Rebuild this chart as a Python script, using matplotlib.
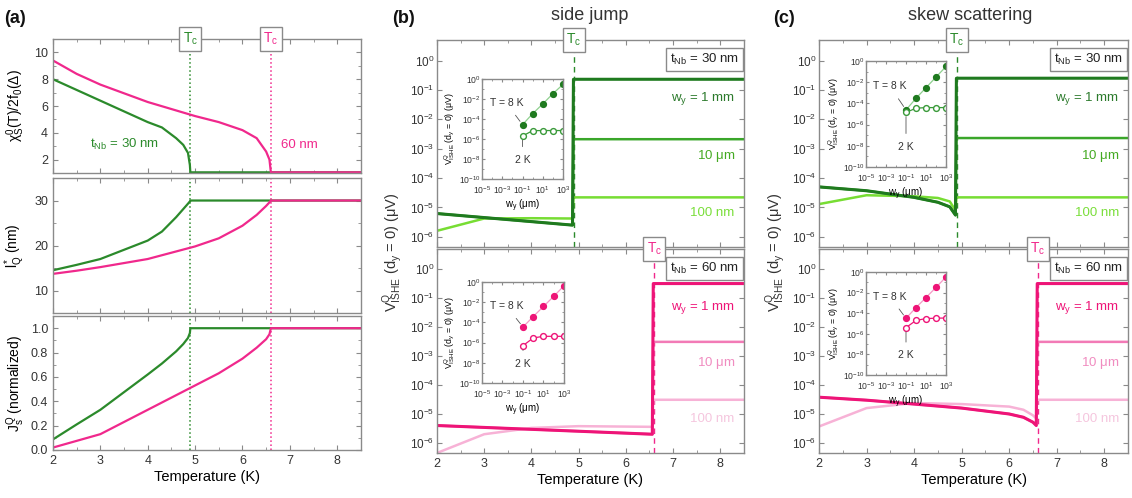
import matplotlib
matplotlib.use("Agg")
import matplotlib.pyplot as plt
import matplotlib.ticker as mticker

plt.rcParams["font.family"] = ["Liberation Sans", "DejaVu Sans"]
plt.rcParams["mathtext.fontset"] = "custom"
plt.rcParams["mathtext.rm"] = "Liberation Sans"
plt.rcParams["mathtext.it"] = "Liberation Sans"
plt.rcParams["mathtext.bf"] = "Liberation Sans:bold"
plt.rcParams["axes.edgecolor"] = "#8a8a8a"
plt.rcParams["axes.linewidth"] = 1.0
plt.rcParams["xtick.color"] = "#8a8a8a"
plt.rcParams["ytick.color"] = "#8a8a8a"
plt.rcParams["xtick.labelcolor"] = "#333333"
plt.rcParams["ytick.labelcolor"] = "#333333"
plt.rcParams["xtick.direction"] = "in"
plt.rcParams["ytick.direction"] = "in"
plt.rcParams["xtick.top"] = True
plt.rcParams["ytick.right"] = True
plt.rcParams["text.color"] = "#333333"

# ---- panel (a): superconducting quantities vs temperature ----
T_30 = [2.0, 2.5, 3.0, 4.0, 4.3, 4.6, 4.75, 4.85, 4.89, 4.9, 8.5]
chi_30 = [8.0, 7.2, 6.4, 4.8, 4.4, 3.6, 3.1, 2.5, 1.6, 1.05, 1.05]
lq_30 = [14.5, 15.7, 17.0, 21.1, 23.1, 26.3, 28.1, 29.3, 29.8, 30.0, 30.0]
js_30 = [0.087, 0.21, 0.33, 0.62, 0.71, 0.81, 0.87, 0.92, 0.96, 1.0, 1.0]

T_60 = [2.0, 2.5, 3.0, 4.0, 5.0, 5.5, 6.0, 6.3, 6.5, 6.57, 6.6, 8.5]
chi_60 = [9.4, 8.4, 7.6, 6.3, 5.25, 4.8, 4.2, 3.6, 2.6, 2.0, 1.05, 1.05]
lq_60 = [13.7, 14.4, 15.2, 17.0, 19.8, 21.6, 24.4, 26.8, 28.8, 29.6, 30.0, 30.0]
js_60 = [0.02, 0.075, 0.13, 0.33, 0.53, 0.63, 0.75, 0.84, 0.91, 0.95, 1.0, 1.0]

Tc_30 = 4.9
Tc_60 = 6.6

# ---- panel (b): side jump, V_ISHE vs T ----
sj30_T_1mm = [2.0, 4.87, 4.89, 8.5]
sj30_V_1mm = [6.2e-6, 2.5e-6, 0.23, 0.23]
sj30_T_10um = [2.0, 4.87, 4.89, 8.5]
sj30_V_10um = [6.2e-6, 2.5e-6, 2.1e-3, 2.1e-3]
sj30_T_100nm = [2.0, 3.0, 4.0, 4.87, 4.89, 8.5]
sj30_V_100nm = [1.6e-6, 4.2e-6, 4.3e-6, 4.2e-6, 2.2e-5, 2.2e-5]

sj60_T_1mm = [2.0, 6.56, 6.58, 8.5]
sj60_V_1mm = [4.0e-6, 2.0e-6, 0.32, 0.32]
sj60_T_10um = [2.0, 6.56, 6.58, 8.5]
sj60_V_10um = [4.0e-6, 2.0e-6, 3.1e-3, 3.1e-3]
sj60_T_100nm = [2.0, 3.0, 4.0, 5.0, 6.56, 6.58, 8.5]
sj60_V_100nm = [4.5e-7, 2.0e-6, 3.3e-6, 3.8e-6, 3.6e-6, 3.1e-5, 3.1e-5]

# ---- panel (c): skew scattering ----
ss30_T_1mm = [2.0, 3.0, 4.0, 4.5, 4.75, 4.87, 4.89, 8.5]
ss30_V_1mm = [5.0e-5, 3.7e-5, 2.2e-5, 1.5e-5, 1.05e-5, 5.5e-6, 0.25, 0.25]
ss30_T_10um = [2.0, 3.0, 4.0, 4.5, 4.75, 4.87, 4.89, 8.5]
ss30_V_10um = [5.0e-5, 3.7e-5, 2.2e-5, 1.5e-5, 1.05e-5, 5.5e-6, 2.3e-3, 2.3e-3]
ss30_T_100nm = [2.0, 3.0, 4.0, 4.5, 4.75, 4.87, 4.89, 8.5]
ss30_V_100nm = [1.3e-5, 2.6e-5, 2.4e-5, 2.1e-5, 1.6e-5, 8.0e-6, 2.2e-5, 2.2e-5]

ss60_T_1mm = [2.0, 3.0, 4.0, 5.0, 6.0, 6.3, 6.5, 6.57, 6.59, 8.5]
ss60_V_1mm = [3.8e-5, 3.0e-5, 2.2e-5, 1.6e-5, 1.0e-5, 7.7e-6, 5.2e-6, 4.0e-6, 0.32, 0.32]
ss60_T_10um = [2.0, 3.0, 4.0, 5.0, 6.0, 6.3, 6.5, 6.57, 6.59, 8.5]
ss60_V_10um = [3.8e-5, 3.0e-5, 2.2e-5, 1.6e-5, 1.0e-5, 7.7e-6, 5.2e-6, 4.0e-6, 3.1e-3, 3.1e-3]
ss60_T_100nm = [2.0, 3.0, 4.0, 5.0, 6.0, 6.3, 6.5, 6.57, 6.59, 8.5]
ss60_V_100nm = [3.7e-6, 1.6e-5, 2.4e-5, 2.2e-5, 1.8e-5, 1.4e-5, 9.0e-6, 7.0e-6, 3.1e-5, 3.1e-5]

# ---- insets: V_ISHE vs w_y ----
wy_um = [0.1, 1, 10, 100, 1000]
sj30_8K = [2.7e-5, 3.4e-4, 3.2e-3, 3.4e-2, 0.29]
sj30_2K = [2.0e-6, 6.8e-6, 7.0e-6, 7.0e-6, 7.0e-6]
sj60_8K = [3.5e-5, 3.8e-4, 3.8e-3, 3.8e-2, 0.42]
sj60_2K = [5.0e-7, 2.9e-6, 4.2e-6, 4.2e-6, 4.2e-6]
ss30_8K = [2.4e-5, 3.0e-4, 3.0e-3, 3.0e-2, 0.30]
ss30_2K = [1.4e-5, 3.5e-5, 4.0e-5, 4.0e-5, 4.0e-5]
ss60_8K = [3.2e-5, 3.5e-4, 3.3e-3, 3.2e-2, 0.33]
ss60_2K = [4.0e-6, 2.0e-5, 3.0e-5, 3.3e-5, 3.4e-5]

GREEN = "#2b8a2b"
PINK = "#f0288c"
G_DARK, G_MID, G_LIGHT = "#1f7a1f", "#3aa62a", "#77dd33"
P_DARK, P_MID, P_LIGHT = "#ee1477", "#f27ab6", "#f7b2d6"
V_LABEL = r"V$^{\mathregular{Q}}_{\mathregular{ISHE}}$ (d$_\mathregular{y}$ = 0) ($\mathregular{\mu}$V)"

fig = plt.figure(figsize=(11.32, 4.98), dpi=100)


def tc_box(ax, x, color):
    ax.text(x, 1.0, r"T$_\mathregular{c}$", transform=ax.get_xaxis_transform(),
            ha="center", va="center", color=color, fontsize=10, zorder=20, clip_on=False,
            bbox=dict(boxstyle="square,pad=0.25", fc="white", ec="#8a8a8a", lw=1))


def style_T_axis(ax, labels=True):
    ax.set_xlim(2, 8.5)
    ax.xaxis.set_major_locator(mticker.MultipleLocator(1))
    ax.xaxis.set_minor_locator(mticker.MultipleLocator(0.5))
    ax.tick_params(which="both", labelsize=9)
    ax.tick_params(which="major", length=3.5)
    ax.tick_params(which="minor", length=2)
    if labels:
        ax.set_xlabel("Temperature (K)", fontsize=10.5, labelpad=2)
    else:
        ax.tick_params(axis="x", labelbottom=False)


# panel (a)
ax_a1 = fig.add_axes([0.0468, 0.6526, 0.272, 0.269])
ax_a2 = fig.add_axes([0.0468, 0.3715, 0.272, 0.271])
ax_a3 = fig.add_axes([0.0468, 0.0964, 0.272, 0.269])

ax_a1.plot(T_30, chi_30, color=GREEN, lw=1.6)
ax_a1.plot(T_60, chi_60, color=PINK, lw=1.6)
ax_a1.set_ylim(1, 11)
ax_a1.yaxis.set_major_locator(mticker.MultipleLocator(2))
ax_a1.yaxis.set_minor_locator(mticker.MultipleLocator(1))
ax_a1.set_ylabel(r"$\chi^0_S$(T)/2f$_0$($\Delta$)", fontsize=10)
ax_a1.text(3.5, 3.1, r"t$_\mathregular{Nb}$ = 30 nm", color=GREEN, fontsize=9.5, ha="center", va="center")
ax_a1.text(7.2, 3.1, "60 nm", color=PINK, fontsize=9.5, ha="center", va="center")

ax_a2.plot(T_30, lq_30, color=GREEN, lw=1.6)
ax_a2.plot(T_60, lq_60, color=PINK, lw=1.6)
ax_a2.set_ylim(5, 35)
ax_a2.yaxis.set_major_locator(mticker.MultipleLocator(10))
ax_a2.yaxis.set_minor_locator(mticker.MultipleLocator(5))
ax_a2.set_ylabel(r"l$^*_\mathregular{Q}$ (nm)", fontsize=10)

ax_a3.plot(T_30, js_30, color=GREEN, lw=1.6)
ax_a3.plot(T_60, js_60, color=PINK, lw=1.6)
ax_a3.set_ylim(0, 1.1)
ax_a3.yaxis.set_major_locator(mticker.MultipleLocator(0.2))
ax_a3.yaxis.set_minor_locator(mticker.MultipleLocator(0.1))
ax_a3.yaxis.set_major_formatter(mticker.FormatStrFormatter("%.1f"))
ax_a3.set_ylabel(r"J$^\mathregular{Q}_\mathregular{s}$ (normalized)", fontsize=10)

for ax in (ax_a1, ax_a2, ax_a3):
    style_T_axis(ax, labels=(ax is ax_a3))
    ax.axvline(Tc_30, color=GREEN, ls=":", lw=1.1, zorder=0)
    ax.axvline(Tc_60, color=PINK, ls=":", lw=1.1, zorder=0)
    ax.yaxis.set_label_coords(-0.085, 0.5)
tc_box(ax_a1, Tc_30, GREEN)
tc_box(ax_a1, Tc_60, PINK)


def main_panel(rect, series, colors, label_colors, tc, tc_color, thick_label):
    ax = fig.add_axes(rect)
    for (t, v), c, lw in zip(series[::-1], colors[::-1], (1.8, 1.8, 2.2)):
        ax.plot(t, v, color=c, lw=lw)
    ax.set_yscale("log")
    ax.set_ylim(4.5e-7, 5)
    ax.set_yticks([1e0, 1e-1, 1e-2, 1e-3, 1e-4, 1e-5, 1e-6])
    ax.axvline(tc, color=tc_color, ls=(0, (4, 3)), lw=1.0, zorder=0)
    tc_box(ax, tc, tc_color)
    ax.text(0.985, 0.905, thick_label, transform=ax.transAxes, ha="right", va="center",
            fontsize=9.5, color="#222222",
            bbox=dict(boxstyle="square,pad=0.3", fc="white", ec="#8a8a8a", lw=1))
    ax.text(0.97, 0.715, r"w$_\mathregular{y}$ = 1 mm", transform=ax.transAxes, ha="right",
            va="center", fontsize=9.5, color=label_colors[0])
    ax.text(0.97, 0.44, r"10 $\mathregular{\mu}$m", transform=ax.transAxes, ha="right",
            va="center", fontsize=9.5, color=label_colors[1])
    ax.text(0.97, 0.165, "100 nm", transform=ax.transAxes, ha="right",
            va="center", fontsize=9.5, color=label_colors[2])
    return ax


def inset(rect, y8, y2, c_dark, c_line, c_open):
    ax = fig.add_axes(rect)
    ax.plot(wy_um, y8, color=c_line, lw=0.9, marker="o", ms=4.2, mfc=c_dark, mec=c_dark)
    ax.plot(wy_um, y2, color=c_open, lw=0.9, marker="o", ms=4.2, mfc="white", mec=c_open, mew=1.0)
    ax.set_xscale("log")
    ax.set_yscale("log")
    ax.set_xlim(1e-5, 1e3)
    ax.set_ylim(1e-10, 1e0)
    ax.set_xticks([1e-5, 1e-3, 1e-1, 1e1, 1e3])
    ax.set_xticks([1e-4, 1e-2, 1e0, 1e2], minor=True)
    ax.set_yticks([1e0, 1e-2, 1e-4, 1e-6, 1e-8, 1e-10])
    ax.set_yticks([1e-1, 1e-3, 1e-5, 1e-7, 1e-9], minor=True)
    ax.xaxis.set_minor_formatter(mticker.NullFormatter())
    ax.yaxis.set_minor_formatter(mticker.NullFormatter())
    ax.tick_params(which="both", labelsize=6.2)
    ax.tick_params(axis="x", pad=3.5)
    ax.tick_params(axis="y", pad=1.2)
    ax.tick_params(which="major", length=2.5)
    ax.tick_params(which="minor", length=1.5)
    ax.set_xlabel(r"w$_\mathregular{y}$ ($\mathregular{\mu}$m)", fontsize=7, labelpad=1.5)
    ax.set_ylabel(V_LABEL, fontsize=6.3, labelpad=1)
    ax.annotate("T = 8 K", xy=(wy_um[0], y8[0]), xytext=(10 ** -2.6, 10 ** -2.4),
                fontsize=7.5, ha="center", va="center",
                arrowprops=dict(arrowstyle="-", color="#555555", lw=0.6, shrinkA=4, shrinkB=3))
    ax.annotate("2 K", xy=(wy_um[0], y2[0]), xytext=(wy_um[0], 10 ** -8.1),
                fontsize=7.5, ha="center", va="center",
                arrowprops=dict(arrowstyle="-", color="#555555", lw=0.6, shrinkA=4, shrinkB=3))
    return ax


g_cols = (G_DARK, G_MID, G_LIGHT)
g_lab = ("#2b7a2b", "#44aa22", "#7ade3a")
p_cols = (P_DARK, P_MID, P_LIGHT)
p_lab = ("#ee1477", "#f08cc0", "#f5c6de")
t30 = r"t$_\mathregular{Nb}$ = 30 nm"
t60 = r"t$_\mathregular{Nb}$ = 60 nm"

# panel (b)
ax_b1 = main_panel([0.386, 0.504, 0.2712, 0.4157],
                   [(sj30_T_1mm, sj30_V_1mm), (sj30_T_10um, sj30_V_10um), (sj30_T_100nm, sj30_V_100nm)],
                   g_cols, g_lab, Tc_30, GREEN, t30)
ax_b2 = main_panel([0.386, 0.0904, 0.2712, 0.4096],
                   [(sj60_T_1mm, sj60_V_1mm), (sj60_T_10um, sj60_V_10um), (sj60_T_100nm, sj60_V_100nm)],
                   p_cols, p_lab, Tc_60, PINK, t60)

# panel (c)
ax_c1 = main_panel([0.7235, 0.504, 0.273, 0.4157],
                   [(ss30_T_1mm, ss30_V_1mm), (ss30_T_10um, ss30_V_10um), (ss30_T_100nm, ss30_V_100nm)],
                   g_cols, g_lab, Tc_30, GREEN, t30)
ax_c2 = main_panel([0.7235, 0.0904, 0.273, 0.4096],
                   [(ss60_T_1mm, ss60_V_1mm), (ss60_T_10um, ss60_V_10um), (ss60_T_100nm, ss60_V_100nm)],
                   p_cols, p_lab, Tc_60, PINK, t60)

for ax in (ax_b1, ax_b2, ax_c1, ax_c2):
    style_T_axis(ax, labels=ax in (ax_b2, ax_c2))
    ax.yaxis.set_minor_locator(mticker.NullLocator())
    ax.tick_params(axis="y", labelsize=8.5, pad=2)

inset([0.4258, 0.6406, 0.0716, 0.2008], sj30_8K, sj30_2K, G_DARK, "#8fd08f", "#3a9a3a")
inset([0.4258, 0.2309, 0.0724, 0.2028], sj60_8K, sj60_2K, P_DARK, "#f59ac6", P_DARK)
inset([0.7650, 0.6647, 0.0707, 0.2129], ss30_8K, ss30_2K, G_DARK, "#8fd08f", "#3a9a3a")
inset([0.7650, 0.2470, 0.0707, 0.2068], ss60_8K, ss60_2K, P_DARK, "#f59ac6", P_DARK)

fig.text(0.3475, 0.494, V_LABEL, rotation=90, ha="center", va="center", fontsize=10.5)
fig.text(0.6855, 0.494, V_LABEL, rotation=90, ha="center", va="center", fontsize=10.5)

fig.text(0.521, 0.968, "side jump", ha="center", va="center", fontsize=13)
fig.text(0.857, 0.968, "skew scattering", ha="center", va="center", fontsize=13)
fig.text(0.004, 0.962, "(a)", ha="left", va="center", fontsize=13, fontweight="bold", color="#111111")
fig.text(0.346, 0.962, "(b)", ha="left", va="center", fontsize=13, fontweight="bold", color="#111111")
fig.text(0.683, 0.962, "(c)", ha="left", va="center", fontsize=13, fontweight="bold", color="#111111")

fig.savefig("out.png", dpi=100)
